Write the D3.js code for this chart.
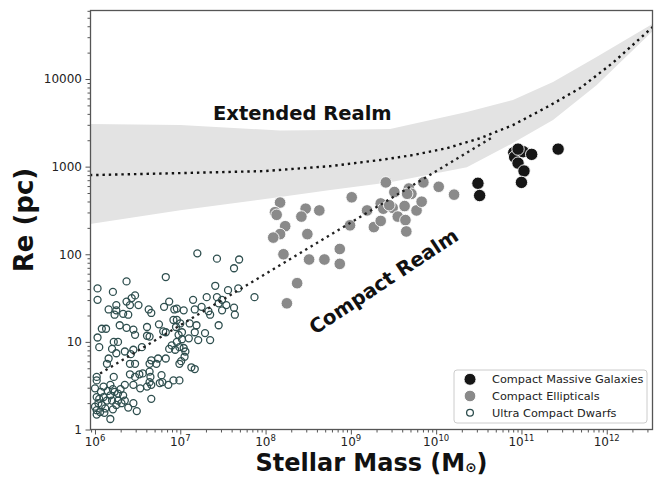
<!DOCTYPE html>
<html>
<head>
<meta charset="utf-8">
<script src="https://cdn.jsdelivr.net/npm/d3@7"></script>
<style>
  body { margin: 0; background: #fff; }
  svg { display: block; }
  text { font-family: "DejaVu Sans", sans-serif; }
</style>
</head>
<body>
<svg id="chart" width="657" height="477"></svg>
<script>
// Size–mass plane of compact stellar systems.
// Masses are log10(M / Msun); radii are log10(Re / pc).

// Ultra compact dwarfs
const ucdLogM = [7.20,7.43,7.69,7.63,7.41,7.56,7.68,7.87,7.31,7.15,7.43,7.49,7.45,7.54,7.63,7.64,7.25,7.17,7.33,7.35,
  7.49,7.04,6.96,6.96,7.00,7.11,7.19,7.45,7.17,7.29,7.02,6.98,6.96,7.02,7.10,7.21,7.35,6.99,7.04,7.06,
  7.05,7.01,6.99,7.13,7.17,6.99,6.83,6.37,6.03,6.21,6.03,6.47,6.43,6.37,6.41,6.51,6.25,6.25,6.16,6.23,
  6.33,6.39,6.63,6.66,6.81,6.87,6.93,6.92,6.75,6.61,6.29,6.37,6.45,6.08,6.13,6.03,6.47,6.61,6.64,6.83,
  6.95,6.80,6.22,6.27,6.05,6.20,6.35,6.25,6.45,6.16,6.14,6.41,6.47,6.66,6.74,6.64,6.72,6.83,6.87,6.90,
  6.94,6.41,6.47,6.52,6.56,6.64,6.65,6.64,6.66,6.61,6.53,6.45,6.35,6.22,6.02,6.02,6.78,6.79,6.86,6.92,
  6.76,6.00,6.10,6.18,6.02,6.10,6.18,6.23,6.27,6.33,6.14,6.20,6.27,6.35,6.04,6.08,6.25,6.31,6.02,6.02,
  6.06,6.45,6.49,6.66,6.18,6.00,6.12,6.55,6.42,6.07,6.21,6.30,6.15,6.05,6.11,6.21,6.39];
const ucdLogRe = [2.01,1.95,1.94,1.84,1.64,1.59,1.61,1.51,1.51,1.48,1.51,1.48,1.44,1.42,1.39,1.31,1.40,1.37,1.35,1.31,
  1.36,1.36,1.38,1.25,1.21,1.21,1.19,1.19,1.11,1.10,1.11,1.08,1.00,1.03,1.04,1.02,1.02,0.94,0.93,0.89,
  0.83,0.78,0.75,0.71,0.69,0.56,1.74,1.69,1.61,1.57,1.48,1.53,1.50,1.46,1.42,1.42,1.42,1.36,1.37,1.31,
  1.32,1.31,1.37,1.33,1.40,1.46,1.37,1.25,1.20,1.17,1.19,1.16,1.14,1.15,1.15,1.05,1.08,1.07,1.06,1.11,
  1.17,1.12,1.00,1.00,0.94,0.92,0.89,0.87,0.91,0.81,0.75,0.75,0.75,0.79,0.81,0.75,0.75,0.81,0.92,0.96,
  0.91,0.63,0.60,0.63,0.64,0.66,0.60,0.54,0.51,0.49,0.47,0.51,0.51,0.60,0.60,0.56,0.62,0.54,0.51,0.56,
  0.53,0.47,0.49,0.51,0.37,0.37,0.39,0.43,0.41,0.39,0.33,0.33,0.33,0.33,0.30,0.28,0.28,0.30,0.22,0.17,
  0.20,0.30,0.21,0.35,0.12,0.26,0.24,0.94,0.86,0.43,0.46,0.46,0.44,0.35,0.19,0.23,0.25];

// Compact ellipticals
const ceLogM = [8.17,8.11,8.13,8.23,8.17,8.09,8.47,8.42,8.63,8.49,8.21,8.51,8.69,8.87,8.87,8.37,8.25,9.01,9.19,8.99,
  9.27,9.35,9.35,9.38,9.41,9.51,9.49,9.55,9.63,9.64,9.65,9.68,9.71,9.77,9.83,9.85,10.03,10.21,9.45,9.66];
const ceLogRe = [2.59,2.48,2.45,2.32,2.23,2.19,2.52,2.43,2.50,2.23,2.00,1.94,1.94,2.06,1.89,1.67,1.44,2.65,2.50,2.33,
  2.31,2.58,2.38,2.52,2.82,2.71,2.53,2.43,2.55,2.39,2.26,2.75,2.69,2.50,2.60,2.82,2.77,2.68,2.56,2.69];

// Compact massive galaxies
const cmgLogM = [10.49,10.51,10.91,10.92,10.96,11.02,11.12,11.03,11.00,11.43,10.96];
const cmgLogRe = [2.81,2.67,3.16,3.11,3.04,3.17,3.14,2.95,2.82,3.20,3.20];

// Extended-realm relation and its scatter band
const extLogM  = [5.94,7.00,7.99,8.76,9.34,9.73,10.13,10.52,10.90,11.30,11.69,12.07,12.54];
const extLogRe = [2.903,2.926,2.949,3.006,3.075,3.132,3.212,3.326,3.474,3.680,3.897,4.183,4.594];
const bandLogM = [5.94,7.00,8.17,8.76,9.46,10.36,10.90,11.37,11.88,12.54];
const bandUpperLogRe = [3.486,3.474,3.412,3.417,3.429,3.623,3.760,3.965,4.250,4.630];
const bandLowerLogRe = [2.346,2.503,2.652,2.732,2.823,2.994,3.269,3.532,3.930,4.548];

// Compact-realm relation
const compactLogM  = [6.06,10.67];
const compactLogRe = [0.64,3.34];

const xTickExponents = [6,7,8,9,10,11,12];
const yTickValues = [1,10,100,1000,10000];
const legendLabels = ["Compact Massive Galaxies","Compact Ellipticals","Ultra Compact Dwarfs"];

const m = { left: 90.5, right: 652.5, top: 10.5, bottom: 429.5 };
const x = d3.scaleLog().domain([8.86e5, 3.44e12]).range([m.left, m.right]);
const y = d3.scaleLog().domain([1, 6.05e4]).range([m.bottom, m.top]);
const pow = v => Math.pow(10, v);
const pts = (lm, lr) => lm.map((v, i) => ({ m: pow(v), r: pow(lr[i]) }));

const svg = d3.select("#chart");
svg.append("rect").attr("width", 657).attr("height", 477).attr("fill", "#fff");
svg.append("defs").append("clipPath").attr("id", "plotClip")
  .append("rect").attr("x", m.left).attr("y", m.top)
  .attr("width", m.right - m.left).attr("height", m.bottom - m.top);
const plot = svg.append("g").attr("clip-path", "url(#plotClip)");

// scatter band
const band = bandLogM.map((v, i) => ({ m: pow(v), lo: pow(bandLowerLogRe[i]), hi: pow(bandUpperLogRe[i]) }));
plot.append("path").datum(band)
  .attr("d", d3.area().x(d => x(d.m)).y0(d => y(d.lo)).y1(d => y(d.hi)))
  .attr("fill", "#e3e3e3");

// points
plot.append("g").selectAll("circle").data(pts(ucdLogM, ucdLogRe)).join("circle")
  .attr("cx", d => x(d.m)).attr("cy", d => y(d.r)).attr("r", 3.5)
  .attr("fill", "none").attr("stroke", "#2f4f4f").attr("stroke-width", 1.3);
plot.append("g").selectAll("circle").data(pts(ceLogM, ceLogRe)).join("circle")
  .attr("cx", d => x(d.m)).attr("cy", d => y(d.r)).attr("r", 5.8)
  .attr("fill", "#8a8a8a").attr("stroke", "#fff").attr("stroke-width", 0.9);
plot.append("g").selectAll("circle").data(pts(cmgLogM, cmgLogRe)).join("circle")
  .attr("cx", d => x(d.m)).attr("cy", d => y(d.r)).attr("r", 6.2)
  .attr("fill", "#161616").attr("stroke", "#fff").attr("stroke-width", 0.9);

// relations
const line = d3.line().x(d => x(d.m)).y(d => y(d.r));
plot.append("path").datum(pts(extLogM, extLogRe)).attr("d", line)
  .attr("fill", "none").attr("stroke", "#111").attr("stroke-width", 2.4).attr("stroke-dasharray", "2.4 3.9");
plot.append("path").datum(pts(compactLogM, compactLogRe)).attr("d", line)
  .attr("fill", "none").attr("stroke", "#222").attr("stroke-width", 2.4).attr("stroke-dasharray", "2.4 3.9");

// axes
const minorOf = (lo, hi, dom) => {
  const out = [];
  for (let e = lo; e <= hi; e++) for (let k = 2; k <= 9; k++) {
    const v = k * Math.pow(10, e);
    if (v >= dom[0] && v <= dom[1]) out.push(v);
  }
  return out;
};
const styleAxis = g => { g.select(".domain").remove(); g.selectAll("line").attr("stroke", "#555").attr("stroke-width", 1); };

svg.append("g").attr("transform", `translate(0,${m.bottom})`)
  .call(d3.axisBottom(x).tickValues(xTickExponents.map(pow)).tickSize(5).tickFormat("")).call(styleAxis);
svg.append("g").attr("transform", `translate(0,${m.bottom})`)
  .call(d3.axisBottom(x).tickValues(minorOf(5, 12, x.domain())).tickSize(3).tickFormat("")).call(styleAxis);
svg.append("g").attr("transform", `translate(${m.left},0)`)
  .call(d3.axisLeft(y).tickValues(yTickValues).tickSize(5).tickFormat("")).call(styleAxis);
svg.append("g").attr("transform", `translate(${m.left},0)`)
  .call(d3.axisLeft(y).tickValues(minorOf(0, 4, y.domain())).tickSize(3).tickFormat("")).call(styleAxis);

const xl = svg.append("g").selectAll("text").data(xTickExponents).join("text")
  .attr("x", d => x(pow(d))).attr("y", 446).attr("text-anchor", "middle")
  .attr("font-size", 12).attr("fill", "#222");
xl.append("tspan").text("10");
xl.append("tspan").attr("dy", -5.5).attr("font-size", 8.5).text(d => d);

svg.append("g").selectAll("text").data(yTickValues).join("text")
  .attr("x", 82).attr("y", d => y(d) + 4.3).attr("text-anchor", "end")
  .attr("font-size", 12).attr("fill", "#222").text(d => d);

// frame
svg.append("rect").attr("x", m.left).attr("y", m.top)
  .attr("width", m.right - m.left).attr("height", m.bottom - m.top)
  .attr("fill", "none").attr("stroke", "#555").attr("stroke-width", 1.3);

// axis titles
const xt = svg.append("text").attr("x", (m.left + m.right) / 2).attr("y", 471.3)
  .attr("text-anchor", "middle").attr("font-size", 24).attr("font-weight", "bold").attr("fill", "#111");
xt.append("tspan").text("Stellar Mass (M");
xt.append("tspan").attr("font-size", 13.5).attr("dy", 1).text("\u2299");
xt.append("tspan").attr("dy", -1).text(")");

svg.append("text").attr("transform", `translate(33,${(m.top + m.bottom) / 2}) rotate(-90)`)
  .attr("text-anchor", "middle").attr("font-size", 26).attr("font-weight", "bold").attr("fill", "#111")
  .text("Re (pc)");

// realm annotations
svg.append("text").attr("x", 213).attr("y", 120).attr("font-size", 19.5).attr("font-weight", "bold")
  .attr("fill", "#111").text("Extended Realm");
svg.append("text").attr("transform", "translate(315,335) rotate(-33.5)").attr("font-size", 19.8)
  .attr("font-weight", "bold").attr("fill", "#111").text("Compact Realm");

// legend
const lg = svg.append("g");
lg.append("rect").attr("x", 454).attr("y", 370).attr("width", 193).attr("height", 53).attr("rx", 3)
  .attr("fill", "#fff").attr("fill-opacity", 0.85).attr("stroke", "#ccc").attr("stroke-width", 1);
const legendMarks = [
  { r: 6.0, fill: "#161616", stroke: "#fff", sw: 0.9 },
  { r: 5.8, fill: "#8a8a8a", stroke: "#fff", sw: 0.9 },
  { r: 3.4, fill: "none", stroke: "#2f4f4f", sw: 1.3 }
];
legendLabels.forEach((t, i) => {
  const cy = 379.3 + i * 16.7;
  const mk = legendMarks[i];
  lg.append("circle").attr("cx", 470).attr("cy", cy).attr("r", mk.r)
    .attr("fill", mk.fill).attr("stroke", mk.stroke).attr("stroke-width", mk.sw);
  lg.append("text").attr("x", 492).attr("y", cy + 4).attr("font-size", 11.3).attr("fill", "#222").text(t);
});
</script>
</body>
</html>
